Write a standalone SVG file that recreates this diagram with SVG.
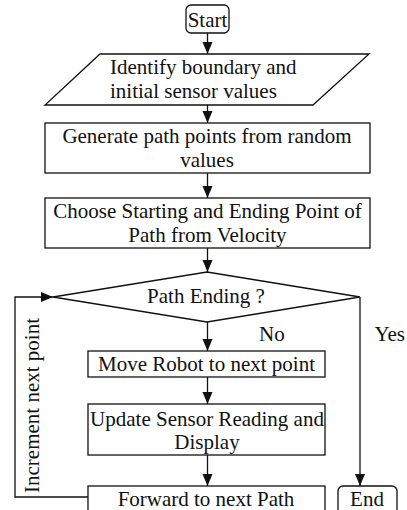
<svg xmlns="http://www.w3.org/2000/svg" width="407" height="510" viewBox="0 0 407 510">
  <style>
    .box { fill: #fff; stroke: #111; stroke-width: 1.3; }
    .edge { fill: none; stroke: #111; stroke-width: 1.3; }
    .t { font-family: "Liberation Serif", "Times New Roman", serif; font-size: 21px; fill: #111; }
    .c { text-anchor: middle; }
  </style>
  <defs>
    <marker id="arrow" markerUnits="userSpaceOnUse" markerWidth="13" markerHeight="11" refX="12" refY="5" orient="auto">
      <path d="M0,0 L12,5 L0,10 z" fill="#111"/>
    </marker>
  </defs>

  <rect width="407" height="510" fill="#fff"/>

  <!-- connectors -->
  <g id="connectors">
    <line class="edge" x1="207.5" y1="33" x2="207.5" y2="54" marker-end="url(#arrow)"/>
    <line class="edge" x1="207.5" y1="105" x2="207.5" y2="123" marker-end="url(#arrow)"/>
    <line class="edge" x1="207.5" y1="173" x2="207.5" y2="198" marker-end="url(#arrow)"/>
    <line class="edge" x1="207.5" y1="248" x2="207.5" y2="272" marker-end="url(#arrow)"/>
    <line class="edge" x1="207.5" y1="322" x2="207.5" y2="351" marker-end="url(#arrow)"/>
    <line class="edge" x1="207.5" y1="377" x2="207.5" y2="404" marker-end="url(#arrow)"/>
    <line class="edge" x1="207.5" y1="455" x2="207.5" y2="486" marker-end="url(#arrow)"/>
    <polyline class="edge" points="360,297 360,486" marker-end="url(#arrow)"/>
    <polyline class="edge" points="88,497 15,497 15,297 53,297" marker-end="url(#arrow)"/>
    <text class="t" x="259" y="341">No</text>
    <text class="t" x="405" y="341" text-anchor="end">Yes</text>
    <text class="t c" transform="translate(39,405.5) rotate(-90)">Increment next point</text>
  </g>

  <g id="start">
    <rect class="box" x="186" y="5" width="43" height="28" rx="5"/>
    <text class="t c" x="207.5" y="27">Start</text>
  </g>

  <g id="identify">
    <polygon class="box" points="100,54 369,54 313,105 45,105"/>
    <text class="t" x="110" y="74">Identify boundary and</text>
    <text class="t" x="110" y="98">initial sensor values</text>
  </g>

  <g id="generate">
    <rect class="box" x="45" y="123" width="325" height="50"/>
    <text class="t c" x="207" y="143">Generate path points from random</text>
    <text class="t c" x="207" y="167">values</text>
  </g>

  <g id="choose">
    <rect class="box" x="45" y="198" width="325" height="50"/>
    <text class="t c" x="207.5" y="217.5">Choose Starting and Ending Point of</text>
    <text class="t c" x="207.5" y="241.5">Path from Velocity</text>
  </g>

  <g id="decision">
    <polygon class="box" points="207,272 360,297 207,322 53,297"/>
    <text class="t c" x="206" y="303">Path Ending ?</text>
  </g>

  <g id="move">
    <rect class="box" x="88" y="351" width="237" height="26"/>
    <text class="t c" x="206.5" y="370.5">Move Robot to next point</text>
  </g>

  <g id="update">
    <rect class="box" x="88" y="404" width="237" height="51"/>
    <text class="t c" x="207" y="425.5">Update Sensor Reading and</text>
    <text class="t c" x="207" y="448.5">Display</text>
  </g>

  <g id="forward">
    <rect class="box" x="88" y="486" width="237" height="32"/>
    <text class="t c" x="206" y="506">Forward to next Path</text>
  </g>

  <g id="end">
    <rect class="box" x="338" y="486" width="59" height="32" rx="5"/>
    <text class="t c" x="367" y="506">End</text>
  </g>
</svg>
